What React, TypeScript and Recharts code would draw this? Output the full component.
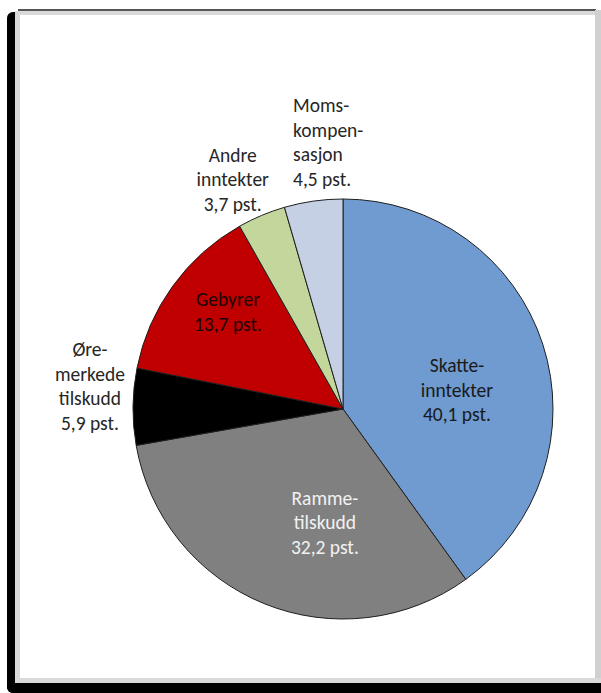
import React from 'react';
import { PieChart, Pie, Cell } from 'recharts';

const categories = ['Skatteinntekter', 'Rammetilskudd', 'Øremerkede tilskudd', 'Gebyrer', 'Andre inntekter', 'Momskompensasjon'];
const values = [40.1, 32.2, 5.9, 13.7, 3.7, 4.5];
const labelLines = [
  ['Skatte-', 'inntekter'],
  ['Ramme-', 'tilskudd'],
  ['Øre-', 'merkede', 'tilskudd'],
  ['Gebyrer'],
  ['Andre', 'inntekter'],
  ['Moms-', 'kompen-', 'sasjon'],
];
const colors = ['#6f9bd0', '#808080', '#000000', '#c00000', '#c3d69b', '#c5d0e5'];
const labelColors = ['#1a1a1a', '#f2f2f2', '#262626', '#1a0505', '#262626', '#262626'];
// label placement: radius factor, angle offset (deg), text anchor
const labelPlacement: [number, number, 'middle' | 'start'][] = [
  [0.55, -8.4, 'middle'],
  [0.545, 13.0, 'middle'],
  [1.21, -4.6, 'middle'],
  [0.718, -4.4, 'middle'],
  [1.214, 2.8, 'middle'],
  [1.293, 2.5, 'start'],
];

const data = categories.map((name, i) => ({ name, value: values[i] }));

const fmt = (v: number) => `${v.toFixed(1).replace('.', ',')} pst.`;

const LINE_H = 24.5;
const FONT = 'Calibri, Carlito, Lato, "Open Sans", sans-serif';

const renderLabel = (props: any) => {
  const { cx, cy, midAngle, outerRadius, index } = props;
  const [rf, da, anchor] = labelPlacement[index];
  const ang = ((midAngle + da) * Math.PI) / 180;
  const r = outerRadius * rf;
  const x = cx + r * Math.cos(ang);
  const y = cy - r * Math.sin(ang);
  const lines = [...labelLines[index], fmt(values[index])];
  const startY = y - ((lines.length - 1) * LINE_H) / 2;
  return (
    <text
      key={`lbl-${index}`}
      x={x}
      y={startY}
      textAnchor={anchor}
      dominantBaseline="central"
      fill={labelColors[index]}
      style={{ fontFamily: FONT, fontSize: 19.5 }}
    >
      {lines.map((ln, j) => (
        <tspan key={j} x={x} y={startY + j * LINE_H} dominantBaseline="central">
          {ln}
        </tspan>
      ))}
    </text>
  );
};

const box = (style: React.CSSProperties) => <div style={{ position: 'absolute', ...style }} />;

export default function App() {
  return (
    <div style={{ position: 'absolute', left: 0, top: 0, width: 601, height: 693, background: '#ffffff', overflow: 'hidden' }}>
      {box({ left: 18, top: 9, width: 578, height: 2, background: '#555555' })}
      {box({ left: 15, top: 11, width: 581, height: 4, background: '#d9d9d9' })}
      {box({ left: 7, top: 12, width: 8, height: 681, background: '#000000', borderTopLeftRadius: 6, borderBottomLeftRadius: 6 })}
      {box({ left: 15, top: 11, width: 5, height: 672, background: '#d9d9d9' })}
      {box({ left: 595, top: 10, width: 6, height: 673, background: '#d0d0d0' })}
      {box({ left: 15, top: 678, width: 586, height: 5, background: '#d9d9d9' })}
      {box({ left: 7, top: 683, width: 594, height: 10, background: '#000000', borderBottomLeftRadius: 6 })}
      <div style={{ position: 'absolute', left: 0, top: 0 }}>
        <PieChart width={601} height={693} margin={{ top: 0, right: 0, bottom: 0, left: 0 }}>
          <Pie
            data={data}
            dataKey="value"
            nameKey="name"
            cx={343}
            cy={409}
            outerRadius={210}
            startAngle={90}
            endAngle={-270}
            stroke="#1f1f1f"
            strokeWidth={1}
            label={renderLabel}
            labelLine={false}
            isAnimationActive={false}
          >
            {data.map((d, i) => (
              <Cell key={d.name} fill={colors[i]} />
            ))}
          </Pie>
        </PieChart>
      </div>
    </div>
  );
}
